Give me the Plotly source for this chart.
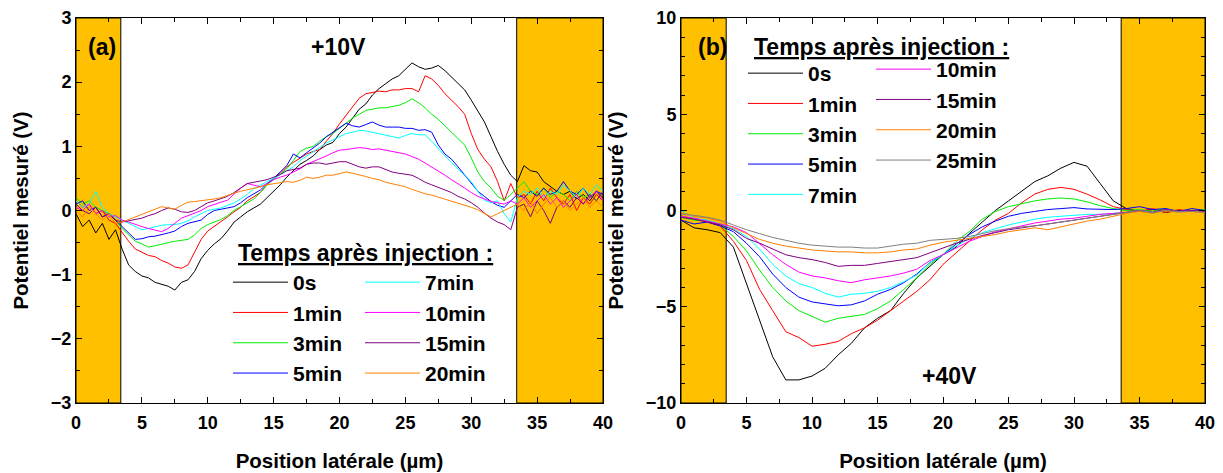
import plotly.graph_objects as go

# ---------------- DATA ----------------
# Panel (a): +10V, x step 0.5 µm from 0 to 40
xa = [i * 0.5 for i in range(81)]
labels_a = ["0s", "1min", "3min", "5min", "7min", "10min", "15min", "20min"]
a_0s = [-0.05,-0.25,-0.15,-0.35,-0.2,-0.45,-0.3,-0.6,-0.85,-0.95,-1.02,-1.05,-1.12,-1.15,-1.18,-1.24,-1.12,-1.08,-0.95,-0.75,
        -0.62,-0.52,-0.44,-0.32,-0.18,-0.1,-0.02,0.04,0.1,0.2,0.3,0.4,0.52,0.62,0.72,0.78,0.85,0.95,1.02,1.06,
        1.2,1.3,1.45,1.58,1.66,1.8,1.9,1.98,2.05,2.1,2.2,2.3,2.24,2.2,2.22,2.26,2.18,2.08,1.98,1.88,
        1.72,1.55,1.38,1.15,0.92,0.72,0.55,0.45,0.7,0.62,0.6,0.45,0.38,0.3,0.25,0.3,0.18,0.25,0.15,0.3,0.2]
a_1min = [0.15,0.05,0.1,-0.05,0.0,-0.15,-0.2,-0.35,-0.48,-0.6,-0.65,-0.7,-0.72,-0.78,-0.82,-0.88,-0.9,-0.85,-0.65,-0.45,
          -0.32,-0.25,-0.18,-0.1,-0.02,0.05,0.15,0.22,0.28,0.4,0.5,0.58,0.68,0.75,0.82,0.88,0.92,0.95,1.08,1.2,
          1.35,1.48,1.62,1.75,1.82,1.84,1.86,1.85,1.88,1.88,1.9,1.9,1.85,2.1,2.05,1.95,1.82,1.72,1.62,1.5,
          1.2,0.95,0.8,0.68,0.45,0.15,0.42,0.2,0.25,0.1,0.3,0.15,0.35,0.2,0.1,0.25,0.0,0.2,0.1,0.25,0.15]
a_3min = [0.2,0.1,0.15,0.05,0.0,-0.05,-0.15,-0.28,-0.38,-0.48,-0.52,-0.57,-0.55,-0.52,-0.5,-0.48,-0.46,-0.45,-0.38,-0.28,
          -0.22,-0.18,-0.14,-0.08,0.0,0.06,0.12,0.18,0.28,0.4,0.48,0.56,0.65,0.78,0.92,0.97,1.0,1.08,1.15,1.2,
          1.28,1.36,1.44,1.5,1.56,1.58,1.6,1.6,1.62,1.64,1.68,1.74,1.68,1.6,1.5,1.42,1.32,1.22,1.12,1.02,
          0.82,0.6,0.45,0.35,0.22,0.16,0.25,0.35,0.45,0.3,0.25,0.35,0.2,0.3,0.25,0.15,0.3,0.2,0.25,0.15,0.3]
a_5min = [0.1,0.15,0.0,0.05,-0.1,-0.05,-0.15,-0.25,-0.35,-0.45,-0.44,-0.41,-0.4,-0.38,-0.35,-0.32,-0.25,-0.2,-0.18,-0.15,
          -0.06,0.0,0.02,0.04,0.06,0.12,0.2,0.26,0.32,0.42,0.5,0.6,0.7,0.88,0.82,0.9,0.98,1.05,1.15,1.22,
          1.3,1.36,1.32,1.3,1.34,1.38,1.33,1.3,1.3,1.3,1.28,1.28,1.25,1.26,1.22,1.02,0.88,0.8,0.68,0.55,
          0.42,0.3,0.22,0.14,0.08,0.05,0.15,0.25,0.2,0.3,0.22,0.35,0.25,0.3,0.45,0.3,0.25,0.35,0.2,0.3,0.25]
a_7min = [0.15,0.05,0.1,0.3,0.05,-0.05,-0.1,-0.15,-0.2,-0.25,-0.3,-0.28,-0.25,-0.23,-0.22,-0.22,-0.2,-0.16,-0.1,-0.05,
          0.0,0.02,0.04,0.08,0.12,0.18,0.25,0.34,0.4,0.45,0.5,0.56,0.62,0.68,0.78,0.85,0.92,0.99,1.05,1.1,
          1.15,1.2,1.22,1.25,1.24,1.22,1.2,1.18,1.15,1.13,1.17,1.2,1.18,1.18,1.08,0.96,0.85,0.75,0.64,0.55,
          0.45,0.3,0.16,0.12,0.15,-0.05,-0.18,0.2,0.3,0.25,0.35,0.2,0.3,0.25,0.4,0.3,0.2,0.35,0.25,0.4,0.3]
a_10min = [0.05,0.0,0.1,-0.05,0.0,-0.1,-0.08,-0.15,-0.18,-0.22,-0.25,-0.28,-0.3,-0.33,-0.28,-0.2,-0.12,-0.08,-0.04,0.0,
           0.06,0.1,0.13,0.16,0.25,0.35,0.42,0.4,0.37,0.42,0.48,0.52,0.55,0.6,0.65,0.72,0.76,0.8,0.85,0.9,
           0.94,0.95,0.96,0.98,0.97,0.95,0.96,0.94,0.92,0.9,0.88,0.84,0.8,0.74,0.68,0.62,0.55,0.48,0.42,0.35,
           0.28,0.22,0.18,0.14,0.12,0.1,0.15,0.1,0.2,0.05,0.15,0.25,0.1,0.2,0.05,0.15,0.25,0.1,0.2,0.3,0.15]
a_15min = [0.1,0.0,-0.05,0.05,-0.1,-0.05,-0.15,-0.18,-0.16,-0.14,-0.12,-0.08,-0.05,0.0,0.04,0.02,-0.02,-0.03,0.0,0.06,
           0.12,0.15,0.18,0.22,0.28,0.35,0.42,0.44,0.46,0.48,0.52,0.56,0.62,0.64,0.66,0.72,0.74,0.74,0.72,0.74,
           0.76,0.76,0.72,0.68,0.66,0.68,0.68,0.64,0.6,0.58,0.56,0.55,0.5,0.44,0.4,0.36,0.33,0.28,0.22,0.18,
           0.12,0.05,-0.04,-0.12,-0.18,-0.22,-0.3,0.05,0.1,-0.1,0.15,0.0,-0.2,0.05,0.15,0.05,0.2,0.1,0.25,0.15,0.3]
a_20min = [0.0,-0.1,0.05,-0.05,-0.15,-0.05,-0.2,-0.18,-0.14,-0.1,-0.07,-0.03,0.02,0.06,0.04,0.02,0.08,0.13,0.14,0.15,
           0.16,0.18,0.2,0.24,0.27,0.3,0.32,0.34,0.37,0.4,0.42,0.43,0.45,0.44,0.47,0.52,0.5,0.52,0.55,0.55,
           0.58,0.6,0.58,0.56,0.53,0.5,0.48,0.44,0.42,0.4,0.37,0.33,0.29,0.26,0.24,0.21,0.18,0.15,0.12,0.08,
           0.05,0.01,-0.04,-0.1,-0.05,0.0,0.05,0.1,0.0,0.15,-0.05,0.1,0.2,0.05,0.15,0.0,0.1,0.2,0.05,0.15,0.05]
series_a = [a_0s, a_1min, a_3min, a_5min, a_7min, a_10min, a_15min, a_20min]

# Panel (b): +40V, x step 1 µm from 0 to 40
xb = list(range(41))
labels_b = ["0s", "1min", "3min", "5min", "7min", "10min", "15min", "20min", "25min"]
b_0s = [-0.5,-0.9,-1.0,-1.15,-1.9,-3.8,-5.8,-7.6,-8.8,-8.8,-8.6,-8.2,-7.5,-6.9,-6.1,-5.6,-5.2,-4.3,-3.5,-2.9,
        -2.3,-1.9,-1.2,-0.6,0.0,0.5,1.0,1.5,1.8,2.2,2.5,2.3,1.4,0.5,0.1,-0.05,0.05,-0.1,0.0,-0.05,0.0]
b_1min = [-0.3,-0.45,-0.6,-0.8,-1.6,-2.6,-4.1,-5.2,-6.3,-6.6,-7.05,-6.95,-6.8,-6.4,-6.1,-5.7,-5.2,-4.7,-4.2,-3.6,
          -2.8,-2.2,-1.6,-1.0,-0.5,-0.15,0.4,0.85,1.1,1.2,1.1,0.85,0.55,0.2,0.05,-0.05,0.1,-0.1,0.05,-0.05,0.0]
b_3min = [-0.35,-0.5,-0.55,-0.75,-1.35,-2.1,-3.1,-4.0,-4.7,-5.2,-5.5,-5.8,-5.6,-5.5,-5.4,-5.1,-4.7,-4.1,-3.5,-2.8,
          -2.3,-1.6,-1.1,-0.45,-0.05,0.2,0.35,0.5,0.6,0.65,0.6,0.45,0.25,0.1,0.0,0.05,-0.05,0.1,-0.05,0.0,0.05]
b_5min = [-0.5,-0.7,-0.6,-0.8,-1.1,-1.7,-2.4,-3.3,-4.0,-4.5,-4.75,-4.85,-4.95,-4.9,-4.7,-4.35,-4.1,-3.75,-3.3,-2.7,
          -2.3,-1.75,-1.25,-0.85,-0.55,-0.3,-0.15,-0.05,0.05,0.1,0.15,0.08,0.05,0.05,0.1,0.2,0.05,0.1,-0.05,0.1,0.0]
b_7min = [0.0,-0.4,-0.5,-0.7,-0.95,-1.35,-2.0,-2.8,-3.4,-3.8,-4.0,-4.3,-4.5,-4.35,-4.3,-4.2,-4.0,-3.7,-3.35,-2.7,
          -2.3,-1.85,-1.45,-1.15,-0.95,-0.75,-0.6,-0.45,-0.35,-0.3,-0.25,-0.2,-0.2,-0.15,-0.1,0.0,-0.15,0.05,-0.1,0.0,-0.05]
b_10min = [-0.3,-0.4,-0.55,-0.7,-0.85,-1.15,-1.7,-2.3,-2.8,-3.2,-3.4,-3.5,-3.65,-3.75,-3.6,-3.5,-3.4,-3.25,-3.05,-2.6,
           -2.3,-1.95,-1.6,-1.35,-1.1,-0.95,-0.8,-0.65,-0.55,-0.45,-0.4,-0.3,-0.2,-0.15,-0.1,0.0,-0.1,0.05,-0.05,0.0,-0.05]
b_15min = [-0.35,-0.45,-0.6,-0.75,-1.0,-1.45,-1.7,-2.0,-2.3,-2.45,-2.55,-2.7,-2.9,-2.85,-2.85,-2.75,-2.65,-2.55,-2.45,-2.2,
           -1.95,-1.7,-1.5,-1.3,-1.15,-1.0,-0.9,-0.8,-0.7,-0.6,-0.5,-0.4,-0.3,-0.2,-0.1,0.0,-0.1,0.05,-0.05,0.0,-0.05]
b_20min = [-0.1,-0.3,-0.4,-0.55,-0.9,-1.2,-1.5,-1.7,-1.85,-1.95,-2.05,-2.1,-2.15,-2.15,-2.2,-2.2,-2.15,-2.05,-2.0,-1.8,
           -1.65,-1.55,-1.45,-1.35,-1.25,-1.1,-1.0,-0.9,-1.0,-0.85,-0.7,-0.55,-0.45,-0.3,-0.15,-0.05,-0.15,0.0,-0.1,-0.05,-0.1]
b_25min = [-0.2,-0.25,-0.35,-0.5,-0.75,-1.0,-1.2,-1.4,-1.55,-1.7,-1.8,-1.85,-1.9,-1.9,-1.95,-1.95,-1.85,-1.75,-1.7,-1.55,
           -1.5,-1.45,-1.35,-1.2,-1.05,-0.95,-0.85,-0.8,-0.7,-0.6,-0.5,-0.4,-0.3,-0.2,-0.1,0.0,-0.1,0.0,-0.05,-0.05,-0.1]
series_b = [b_0s, b_1min, b_3min, b_5min, b_7min, b_10min, b_15min, b_20min, b_25min]

colors = ["#000000", "#FF0000", "#00EE00", "#0000FF", "#00FFFF", "#FF00FF", "#800080", "#FF8000", "#808080"]

band_color = "#FFC000"
bands_a = [(0, 3.4), (33.45, 40)]
bands_b = [(0, 3.45), (33.6, 40)]

# ---------------- FIGURE ----------------
FONT = "Liberation Sans, Arial, sans-serif"
OFF = 8                      # page body margin in the browser
W, H = 1223 - OFF, 473 - OFF  # figure size so that it fits the window
fig = go.Figure()

def px_x(p):
    return (p - OFF) / W

def px_y(p):
    return 1 - (p - OFF) / H

legend_names_a = ["legend"] * 4 + ["legend2"] * 4
legend_names_b = ["legend3"] * 5 + ["legend4"] * 4

for i, (lab, ys) in enumerate(zip(labels_a, series_a)):
    fig.add_trace(go.Scatter(x=xa, y=ys, mode="lines", name=lab,
                             line=dict(color=colors[i], width=1),
                             legend=legend_names_a[i], legendgroup="a" + lab,
                             xaxis="x", yaxis="y"))
for i, (lab, ys) in enumerate(zip(labels_b, series_b)):
    fig.add_trace(go.Scatter(x=xb, y=ys, mode="lines", name=lab,
                             line=dict(color=colors[i], width=1),
                             legend=legend_names_b[i], legendgroup="b" + lab,
                             xaxis="x2", yaxis="y2"))

shapes = []
for x0, x1 in bands_a:
    shapes.append(dict(type="rect", xref="x", yref="y domain", x0=x0, x1=x1, y0=0, y1=1,
                       fillcolor=band_color, line=dict(color="black", width=1), layer="below"))
for x0, x1 in bands_b:
    shapes.append(dict(type="rect", xref="x2", yref="y2 domain", x0=x0, x1=x1, y0=0, y1=1,
                       fillcolor=band_color, line=dict(color="black", width=1), layer="below"))

tickfont = dict(family=FONT, size=18, color="black", weight="bold")
titlefont = dict(family=FONT, size=20.5, color="black", weight="bold")

def axis_common():
    return dict(showline=True, linecolor="black", linewidth=1, mirror="ticks",
                ticks="inside", ticklen=6, tickwidth=1, tickcolor="black",
                showgrid=False, zeroline=False, tickfont=tickfont, automargin=False)

ydom = [px_y(403), px_y(18)]
xa_ax = axis_common()
xa_ax.update(domain=[px_x(76), px_x(603)], range=[0, 40], dtick=5, tick0=0, ticklabelstandoff=3,
             minor=dict(dtick=2.5, ticks="inside", ticklen=4, tickcolor="black"),
             title=dict(text="Position latérale (µm)", font=titlefont, standoff=22), anchor="y")
ya_ax = axis_common()
ya_ax.update(domain=ydom, range=[-3, 3], dtick=1, tick0=0,
             minor=dict(dtick=0.5, ticks="inside", ticklen=4, tickcolor="black"),
             title=dict(text="Potentiel mesuré (V)", font=titlefont, standoff=16), anchor="x")
xb_ax = axis_common()
xb_ax.update(domain=[px_x(681), px_x(1205)], range=[0, 40], dtick=5, tick0=0, ticklabelstandoff=3,
             minor=dict(dtick=2.5, ticks="inside", ticklen=4, tickcolor="black"),
             title=dict(text="Position latérale (µm)", font=titlefont, standoff=22), anchor="y2")
yb_ax = axis_common()
yb_ax.update(domain=ydom, range=[-10, 10], dtick=5, tick0=0,
             minor=dict(dtick=1, ticks="inside", ticklen=4, tickcolor="black"),
             title=dict(text="Potentiel mesuré (V)", font=titlefont, standoff=16), anchor="x2")

legfont = dict(family=FONT, size=21, color="black", weight="bold")

def leg(xp, yp):
    return dict(x=px_x(xp), y=px_y(yp), xanchor="left", yanchor="top",
                bgcolor="rgba(0,0,0,0)", borderwidth=0, font=legfont,
                tracegroupgap=0, itemwidth=55, traceorder="normal")

ann_font = dict(family=FONT, size=23, color="black", weight="bold")
annotations = [
    dict(text="(a)", x=1.97, y=2.55, xref="x", yref="y", showarrow=False, font=ann_font),
    dict(text="+10V", x=19.9, y=2.55, xref="x", yref="y", showarrow=False, font=ann_font),
    dict(text="<u>Temps après injection :</u>", x=22.0, y=-0.66, xref="x", yref="y",
         showarrow=False, font=ann_font),
    dict(text="(b)", x=2.44, y=8.5, xref="x2", yref="y2", showarrow=False, font=ann_font),
    dict(text="+40V", x=20.5, y=-8.6, xref="x2", yref="y2", showarrow=False, font=ann_font),
    dict(text="<u>Temps après injection :</u>", x=15.3, y=8.5, xref="x2", yref="y2",
         showarrow=False, font=ann_font),
]

fig.update_layout(
    width=W, height=H,
    margin=dict(l=0, r=0, t=0, b=0),
    paper_bgcolor="white", plot_bgcolor="white",
    font=dict(family=FONT, color="black"),
    xaxis=xa_ax, yaxis=ya_ax, xaxis2=xb_ax, yaxis2=yb_ax,
    shapes=shapes, annotations=annotations,
    legend=leg(228, 262), legend2=leg(360, 262),
    legend3=leg(743, 53), legend4=leg(871, 49),
)

fig.write_html("out.html")
